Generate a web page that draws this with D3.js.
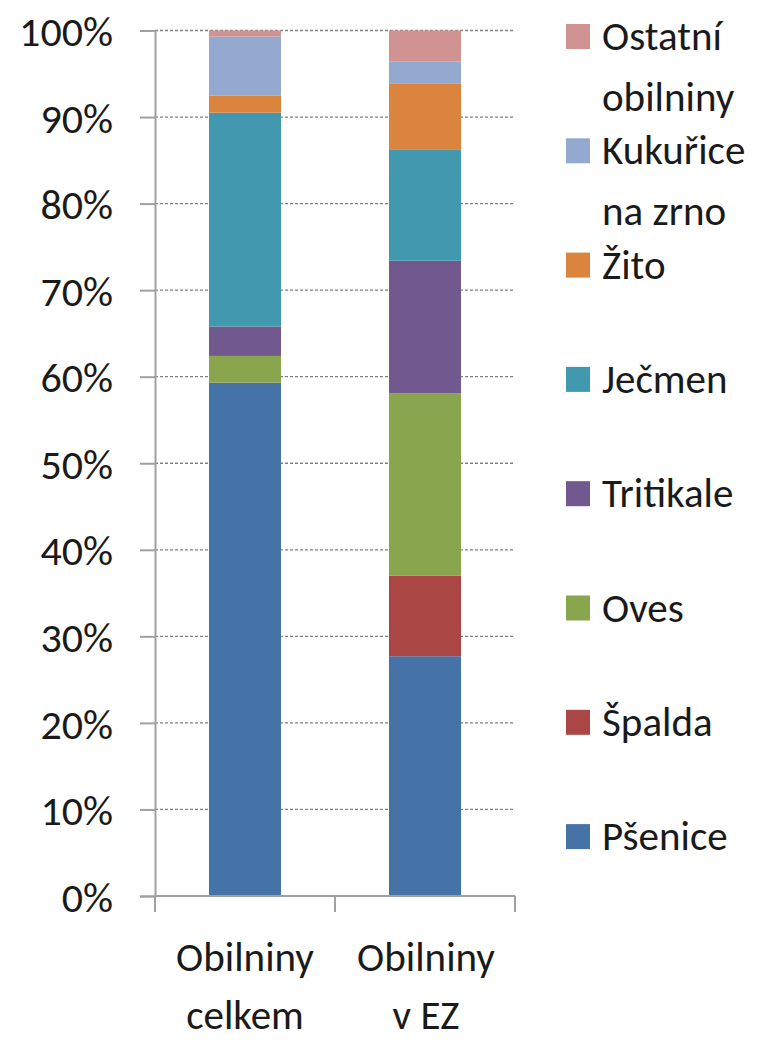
<!DOCTYPE html>
<html>
<head>
<meta charset="utf-8">
<script src="https://cdn.jsdelivr.net/npm/d3@7"></script>
<style>
  body { margin: 0; background: #fff; }
  text { font-family: Carlito, Calibri, Lato, sans-serif; fill: #1a1a1a; }
</style>
</head>
<body>
<svg id="chart"></svg>
<script>
const categories = [["Obilniny", "celkem"], ["Obilniny", "v EZ"]];
const seriesNames = ["Pšenice", "Špalda", "Oves", "Tritikale", "Ječmen", "Žito", "Kukuřice na zrno", "Ostatní obilniny"];
const legendLines = [["Pšenice"], ["Špalda"], ["Oves"], ["Tritikale"], ["Ječmen"], ["Žito"], ["Kukuřice", "na zrno"], ["Ostatní", "obilniny"]];
const colors = ["#4572a7", "#aa4643", "#89a54e", "#71588f", "#4198af", "#db843d", "#93a9cf", "#d19392"];
// percent shares per category, same order as seriesNames
const celkem = [59.3, 0, 3.1, 3.4, 24.7, 2.0, 6.8, 0.7];
const vEZ = [27.7, 9.3, 21.1, 15.3, 12.8, 7.7, 2.5, 3.6];
const yTicks = [0, 10, 20, 30, 40, 50, 60, 70, 80, 90, 100];

const width = 765;
const height = 1040;

const svg = d3.select("#chart")
    .attr("width", width)
    .attr("height", height);

const x = d3.scaleBand()
    .domain([0, 1])
    .range([155, 515])
    .paddingInner(0.6)
    .paddingOuter(0.3);

const y = d3.scaleLinear()
    .domain([0, 100])
    .range([896, 30.5]);

// gridlines
svg.append("g")
    .selectAll("line")
    .data(yTicks.slice(1))
    .enter()
    .append("line")
    .attr("x1", 155)
    .attr("x2", 515)
    .attr("y1", d => y(d))
    .attr("y2", d => y(d))
    .attr("stroke", "#808080")
    .attr("stroke-width", 1.3)
    .attr("stroke-dasharray", "3,2");

// stacked bars
const rows = [celkem, vEZ].map(vals => {
    const r = {};
    seriesNames.forEach((s, i) => r[s] = vals[i]);
    return r;
});
const stacked = d3.stack().keys(seriesNames)(rows);

svg.append("g")
    .selectAll("g")
    .data(stacked)
    .enter()
    .append("g")
    .attr("fill", (d, i) => colors[i])
    .selectAll("rect")
    .data(d => d)
    .enter()
    .append("rect")
    .attr("x", (d, i) => x(i))
    .attr("width", x.bandwidth())
    .attr("y", d => y(d[1]))
    .attr("height", d => y(d[0]) - y(d[1]));

// y axis
const yAxis = svg.append("g")
    .attr("transform", "translate(155,0)")
    .call(d3.axisLeft(y).tickValues(yTicks).tickSize(15).tickFormat(d => d + "%"));
yAxis.select(".domain").attr("stroke", "#a0a0a0").attr("stroke-width", 2);
yAxis.selectAll(".tick line").attr("stroke", "#a0a0a0").attr("stroke-width", 2);
yAxis.selectAll(".tick text")
    .attr("x", -42)
    .attr("dy", "0.36em")
    .style("font-size", "42px")
    .attr("fill", "#1a1a1a");

// x axis
const xAxis = svg.append("g")
    .attr("transform", "translate(0,896)");
xAxis.append("line")
    .attr("x1", 155).attr("x2", 515)
    .attr("stroke", "#a0a0a0").attr("stroke-width", 2);
xAxis.selectAll(".xtick")
    .data([155, 335, 515])
    .enter()
    .append("line")
    .attr("x1", d => d).attr("x2", d => d)
    .attr("y1", 0).attr("y2", 16)
    .attr("stroke", "#a0a0a0").attr("stroke-width", 2);

svg.append("g")
    .selectAll("text")
    .data(categories)
    .enter()
    .append("text")
    .attr("text-anchor", "middle")
    .style("font-size", "41px")
    .each(function(d, i) {
        const t = d3.select(this);
        d.forEach((line, j) => {
            t.append("tspan")
                .attr("x", x(i) + x.bandwidth() / 2 + (i === 0 ? 0 : 1))
                .attr("y", 971 + j * 58)
                .text(line);
        });
    });

// legend, top entry is the last series
const legend = svg.append("g")
    .selectAll("g")
    .data(legendLines.map((l, i) => ({ lines: l, color: colors[i] })).reverse())
    .enter()
    .append("g")
    .attr("transform", (d, i) => `translate(0,${50 + i * 114.3})`);

legend.append("rect")
    .attr("x", 566)
    .attr("y", -26)
    .attr("width", 24)
    .attr("height", 25)
    .attr("fill", d => d.color);

legend.append("text")
    .style("font-size", "41px")
    .each(function(d) {
        const t = d3.select(this);
        d.lines.forEach((line, j) => {
            t.append("tspan")
                .attr("x", 602)
                .attr("y", j * 61)
                .text(line);
        });
    });
</script>
</body>
</html>
